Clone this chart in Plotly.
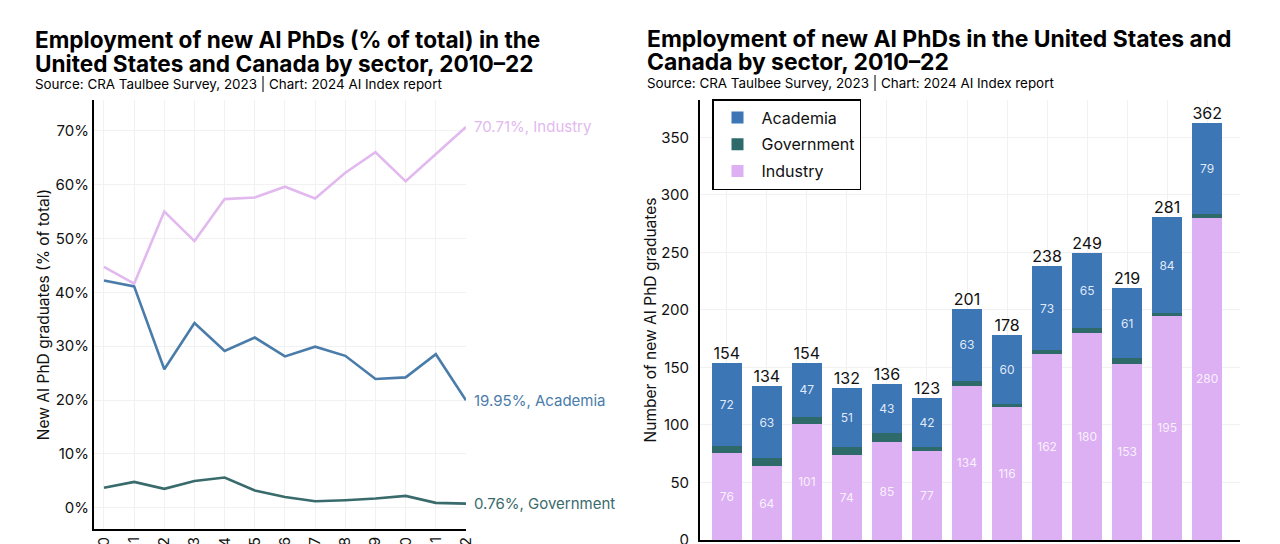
import plotly.graph_objects as go

years = list(range(2010, 2023))

# Left chart: share of new AI PhDs (% of total)
industry_pct = [44.7, 41.6, 55.0, 49.5, 57.3, 57.6, 59.6, 57.4, 62.2, 66.0, 60.6, 65.6, 70.71]
academia_pct = [42.2, 41.1, 25.7, 34.3, 29.1, 31.6, 28.1, 29.9, 28.2, 23.9, 24.2, 28.5, 19.95]
government_pct = [3.7, 4.8, 3.5, 4.95, 5.6, 3.2, 2.0, 1.2, 1.4, 1.7, 2.2, 0.9, 0.76]
pct_ticks = [0, 10, 20, 30, 40, 50, 60, 70]

# Right chart: counts of new AI PhDs
academia_n = [72, 63, 47, 51, 43, 42, 63, 60, 73, 65, 61, 84, 79]
government_n = [6, 7, 6, 7, 8, 4, 4, 2, 3, 4, 5, 2, 3]
industry_n = [76, 64, 101, 74, 85, 77, 134, 116, 162, 180, 153, 195, 280]
totals_n = [154, 134, 154, 132, 136, 123, 201, 178, 238, 249, 219, 281, 362]
count_ticks = [0, 50, 100, 150, 200, 250, 300, 350]

C_IND_LINE = "#e2b9ef"
C_ACA_LINE = "#4a7caa"
C_GOV_LINE = "#3a6b6c"
C_IND_BAR = "#ddb0f4"
C_ACA_BAR = "#3c76b5"
C_GOV_BAR = "#2f6a6b"

FONT = "Inter"
W, H = 1280, 544

fig = go.Figure()

# ---- left: lines
for vals, col in [(industry_pct, C_IND_LINE), (academia_pct, C_ACA_LINE), (government_pct, C_GOV_LINE)]:
    fig.add_trace(go.Scatter(x=years, y=vals, mode="lines", line=dict(color=col, width=2.6),
                             showlegend=False, xaxis="x", yaxis="y", hoverinfo="skip"))

for vals, col, name in [(industry_pct, C_IND_LINE, "Industry"),
                        (academia_pct, C_ACA_LINE, "Academia"),
                        (government_pct, C_GOV_LINE, "Government")]:
    fig.add_annotation(x=years[-1], y=vals[-1], xref="x", yref="y",
                       text=f"{vals[-1]:.2f}%, {name}", showarrow=False,
                       xanchor="left", yanchor="middle", xshift=6,
                       font=dict(family=FONT, size=15, color=col))

# ---- right: stacked bars
fig.add_trace(go.Bar(x=years, y=industry_n, name="Industry", legendgroup="i", legendrank=3,
                     marker=dict(color=C_IND_BAR, line=dict(width=0)),
                     text=industry_n, textposition="inside", insidetextanchor="middle",
                     textfont=dict(family=FONT, size=12, color="rgba(255,255,255,0.85)"),
                     xaxis="x2", yaxis="y2", width=0.75))
fig.add_trace(go.Bar(x=years, y=government_n, name="Government", legendgroup="g", legendrank=2,
                     marker=dict(color=C_GOV_BAR, line=dict(width=0)),
                     xaxis="x2", yaxis="y2", width=0.75, textposition="none"))
fig.add_trace(go.Bar(x=years, y=academia_n, name="Academia", legendgroup="a", legendrank=1,
                     marker=dict(color=C_ACA_BAR, line=dict(width=0)),
                     text=academia_n, textposition="inside", insidetextanchor="middle",
                     textfont=dict(family=FONT, size=12, color="rgba(235,242,255,0.95)"),
                     xaxis="x2", yaxis="y2", width=0.75))
fig.add_trace(go.Scatter(x=years, y=totals_n, mode="text", text=[str(t) for t in totals_n],
                         textposition="top center", textfont=dict(family=FONT, size=16, color="#111"),
                         showlegend=False, xaxis="x2", yaxis="y2", hoverinfo="skip"))

grid = "#f1f1f1"
axis_common = dict(showline=True, linecolor="black", linewidth=2, ticks="", showgrid=True,
                   gridcolor=grid, gridwidth=1, zeroline=False, automargin=False,
                   ticklabeloverflow="allow",
                   tickfont=dict(family=FONT, size=15, color="#111"))

top_px, left_bot_px, right_bot_px = 100, 529, 540

fig.update_layout(
    width=W, height=H, margin=dict(l=0, r=0, t=0, b=0, autoexpand=False),
    paper_bgcolor="white", plot_bgcolor="white", barmode="stack", bargap=0.25,
    font=dict(family=FONT, color="#111"),
    xaxis=dict(domain=[94 / W, 466 / W], range=[2009.67, 2022], tickmode="array", tickvals=years,
               ticktext=[str(y) for y in years], tickangle=-90, anchor="y", **axis_common),
    yaxis=dict(domain=[1 - left_bot_px / H, 1 - top_px / H], range=[-3.95, 75.7], tickmode="array",
               tickvals=pct_ticks, ticktext=[f"{v}%" for v in pct_ticks], anchor="x", ticklabelstandoff=0,
               title=dict(text="New AI PhD graduates (% of total)", font=dict(family=FONT, size=15.5, color="#111"),
                          standoff=2), **axis_common),
    xaxis2=dict(domain=[700 / W, 1240 / W], range=[2009.33, 2022.82], tickmode="array", tickvals=years,
                ticktext=[str(y) for y in years], tickangle=-90, anchor="y2", **axis_common),
    yaxis2=dict(domain=[1 - right_bot_px / H, 1 - top_px / H], range=[0, 382.4], tickmode="array",
                tickvals=count_ticks, ticktext=[str(v) for v in count_ticks], anchor="x2", ticklabelstandoff=6,
                title=dict(text="Number of new AI PhD graduates", font=dict(family=FONT, size=15.5, color="#111"),
                           standoff=0), **axis_common),
    legend=dict(x=712 / W, y=1 - 99 / H, xanchor="left", yanchor="top", traceorder="grouped",
                tracegroupgap=3, bgcolor="white", bordercolor="black", borderwidth=1.5,
                font=dict(family=FONT, size=16, color="#111"), itemwidth=38),
)

# titles
titles = [
    (33, 40, "Employment of new AI PhDs (% of total) in the", 22.6, True),
    (33, 63, "United States and Canada by sector, 2010–22", 22.6, True),
    (33, 84.5, "Source: CRA Taulbee Survey, 2023 | Chart: 2024 AI Index report", 13.4, False),
    (645, 38.5, "Employment of new AI PhDs in the United States and", 22.9, True),
    (645, 62, "Canada by sector, 2010–22", 22.9, True),
    (645, 83, "Source: CRA Taulbee Survey, 2023 | Chart: 2024 AI Index report", 13.4, False),
]
for x, y, t, s, b in titles:
    fig.add_annotation(x=x / W, y=1 - y / H, xref="paper", yref="paper", text=f"<b>{t}</b>" if b else t,
                       showarrow=False, xanchor="left", yanchor="middle",
                       font=dict(family=FONT, size=s, color="#000"))

fig.write_html("out.html", config={"displayModeBar": False},
               post_script="document.body.style.margin='0px';")
